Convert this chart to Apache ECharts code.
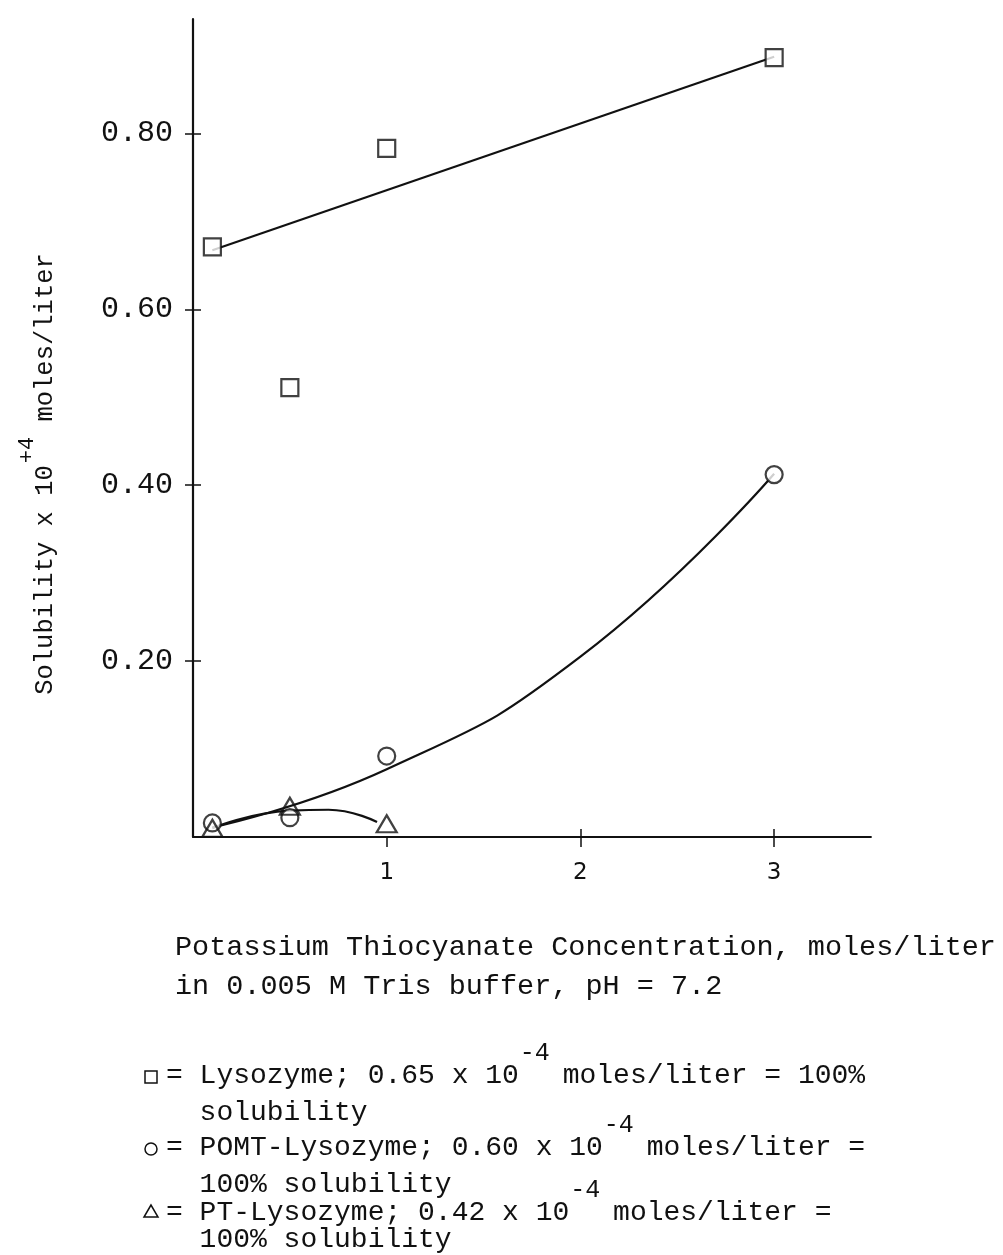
<!DOCTYPE html>
<html>
<head>
<meta charset="utf-8">
<script src="https://cdn.jsdelivr.net/npm/echarts@6/dist/echarts.min.js"></script>
<style>
  html, body { margin: 0; padding: 0; background: #fff; }
  #chart { width: 1003px; height: 1255px; }
</style>
</head>
<body>
<div id="chart"></div>
<script>
// KSCN concentration (moles/liter) at which solubility was measured
const concentration = [0.1, 0.5, 1, 3];
// Solubility x 10^4 moles/liter
const lysozyme = [0.671, 0.511, 0.783, 0.886];
const pomtLysozyme = [0.016, 0.022, 0.092, 0.412];
const ptConcentration = [0.1, 0.5, 1];
const ptLysozyme = [0.010, 0.035, 0.015];

// Hand-drawn fitted curves through the measurements
const lysozymeFitX = [0.1, 3];
const lysozymeFitY = [0.667, 0.887];
const pomtFitX = [0.1, 1, 2, 3];
const pomtFitY = [0.011, 0.077, 0.205, 0.413];
const ptFitX = [0.1, 0.5, 0.7, 0.95];
const ptFitY = [0.010, 0.030, 0.031, 0.017];

// Axis ticks
const yTicks = [0.2, 0.4, 0.6, 0.8];
const xTicks = [1, 2, 3];
const xCrossTicks = [2, 3];

const zip = (xs, ys) => xs.map((x, i) => [x, ys[i]]);

const MONO = 'Liberation Mono';
const ink = '#111';

// width of a string in a given font, used to lay out runs with superscripts
const measureCtx = document.createElement('canvas').getContext('2d');
function textWidth(str, font) {
  measureCtx.font = font;
  return measureCtx.measureText(str).width;
}

// A line of text made of normal and superscript pieces, starting at x0
function textRun(parts, x0, y, size, supSize, raise) {
  const els = [];
  let x = x0;
  parts.forEach(p => {
    const fs = p.sup ? supSize : size;
    const font = fs + 'px "' + MONO + '"';
    els.push({
      type: 'text',
      x: x,
      y: p.sup ? y - raise : y,
      style: {
        text: p.text, font: font, fill: ink,
        align: 'left', textAlign: 'left',
        verticalAlign: 'middle', textVerticalAlign: 'middle'
      }
    });
    x += textWidth(p.text, font) + (p.gap || 0);
  });
  return { els, width: x - x0 };
}

const graphics = [];

// Y axis title, rotated
(function () {
  const parts = [
    { text: 'Solubility x 10', gap: 2 },
    { text: '+4', sup: true, gap: 0 },
    { text: ' moles/liter' }
  ];
  const probe = textRun(parts, 0, 0, 25.5, 22, 18);
  const run = textRun(parts, -probe.width / 2, 0, 25.5, 22, 18);
  graphics.push({ type: 'group', x: 45, y: 474, rotation: Math.PI / 2, children: run.els });
})();

// X axis title (two lines)
graphics.push(...textRun([{ text: 'Potassium Thiocyanate Concentration, moles/liter' }], 175, 947, 28.5, 24, 0).els);
graphics.push(...textRun([{ text: 'in 0.005 M Tris buffer, pH = 7.2' }], 175, 986, 28.5, 24, 0).els);

// Legend block
const legendRows = [
  { y: 1076, parts: [{ text: '= Lysozyme; 0.65 x 10', gap: 1 }, { text: '-4', sup: true, gap: -4 }, { text: ' moles/liter = 100%' }] },
  { y: 1113, parts: [{ text: '  solubility' }] },
  { y: 1148, parts: [{ text: '= POMT-Lysozyme; 0.60 x 10', gap: 1 }, { text: '-4', sup: true, gap: -4 }, { text: ' moles/liter =' }] },
  { y: 1185, parts: [{ text: '  100% solubility' }] },
  { y: 1213, parts: [{ text: '= PT-Lysozyme; 0.42 x 10', gap: 1 }, { text: '-4', sup: true, gap: -4 }, { text: ' moles/liter =' }] },
  { y: 1240, parts: [{ text: '  100% solubility' }] }
];
legendRows.forEach(r => graphics.push(...textRun(r.parts, 166, r.y, 28, 25, 23).els));

// Legend keys
const keyStyle = { fill: '#fff', stroke: ink, lineWidth: 1.5 };
graphics.push({ type: 'rect', shape: { x: 145, y: 1071, width: 12, height: 12 }, style: keyStyle });
graphics.push({ type: 'circle', shape: { cx: 151, cy: 1149, r: 6 }, style: keyStyle });
graphics.push({ type: 'polygon', shape: { points: [[151, 1205], [144, 1217], [158, 1217]] }, style: keyStyle });

const markerStyle = { color: '#fff', borderColor: ink, borderWidth: 2.2 };
const fitLine = { color: ink, width: 2.2 };

const option = {
  backgroundColor: '#fff',
  animation: false,
  grid: { left: 193, top: 19, width: 678, height: 818, outerBoundsMode: 'none', containLabel: false },
  xAxis: [
    {
      type: 'value', min: 0, max: 3.5,
      axisLine: { show: true, onZero: false, lineStyle: { color: ink, width: 1.8 } },
      axisTick: { show: true, customValues: xTicks, length: 10, lineStyle: { color: ink, width: 1.5 } },
      axisLabel: {
        customValues: xTicks, margin: 25, color: ink,
        fontFamily: 'DejaVu Sans', fontSize: 23
      },
      splitLine: { show: false }
    },
    {
      // upper half of the crossing tick marks
      type: 'value', min: 0, max: 3.5, position: 'bottom',
      axisLine: { show: false },
      axisTick: { show: true, inside: true, customValues: xCrossTicks, length: 8, lineStyle: { color: ink, width: 1.5 } },
      axisLabel: { show: false },
      splitLine: { show: false }
    }
  ],
  yAxis: [
    {
      type: 'value', min: 0, max: 0.93,
      axisLine: { show: true, onZero: false, lineStyle: { color: ink, width: 2.2 } },
      axisTick: { show: true, customValues: yTicks, length: 8, lineStyle: { color: ink, width: 1.5 } },
      axisLabel: {
        customValues: yTicks, margin: 20, color: ink,
        fontFamily: MONO, fontSize: 30,
        formatter: v => v.toFixed(2)
      },
      splitLine: { show: false }
    },
    {
      // inner half of the crossing tick marks
      type: 'value', min: 0, max: 0.93, position: 'left',
      axisLine: { show: false },
      axisTick: { show: true, inside: true, customValues: yTicks, length: 8, lineStyle: { color: ink, width: 1.5 } },
      axisLabel: { show: false },
      splitLine: { show: false }
    }
  ],
  series: [
    { name: 'Lysozyme fit', type: 'line', data: zip(lysozymeFitX, lysozymeFitY), showSymbol: false, lineStyle: fitLine, z: 2 },
    { name: 'POMT-Lysozyme fit', type: 'line', data: zip(pomtFitX, pomtFitY), showSymbol: false, smooth: 0.5, lineStyle: fitLine, z: 2 },
    { name: 'PT-Lysozyme fit', type: 'line', data: zip(ptFitX, ptFitY), showSymbol: false, smooth: 0.5, lineStyle: fitLine, z: 2 },
    { name: 'Lysozyme', type: 'scatter', data: zip(concentration, lysozyme), symbol: 'rect', symbolSize: 17, itemStyle: markerStyle, z: 3 },
    { name: 'POMT-Lysozyme', type: 'scatter', data: zip(concentration, pomtLysozyme), symbol: 'circle', symbolSize: 17, itemStyle: markerStyle, z: 3 },
    { name: 'PT-Lysozyme', type: 'scatter', data: zip(ptConcentration, ptLysozyme), symbol: 'triangle', symbolSize: [20, 17], itemStyle: { color: 'rgba(255,255,255,0)', borderColor: ink, borderWidth: 2.2 }, z: 4 }
  ],
  graphic: graphics
};

const chart = echarts.init(document.getElementById('chart'));
chart.setOption(option);
</script>
</body>
</html>
